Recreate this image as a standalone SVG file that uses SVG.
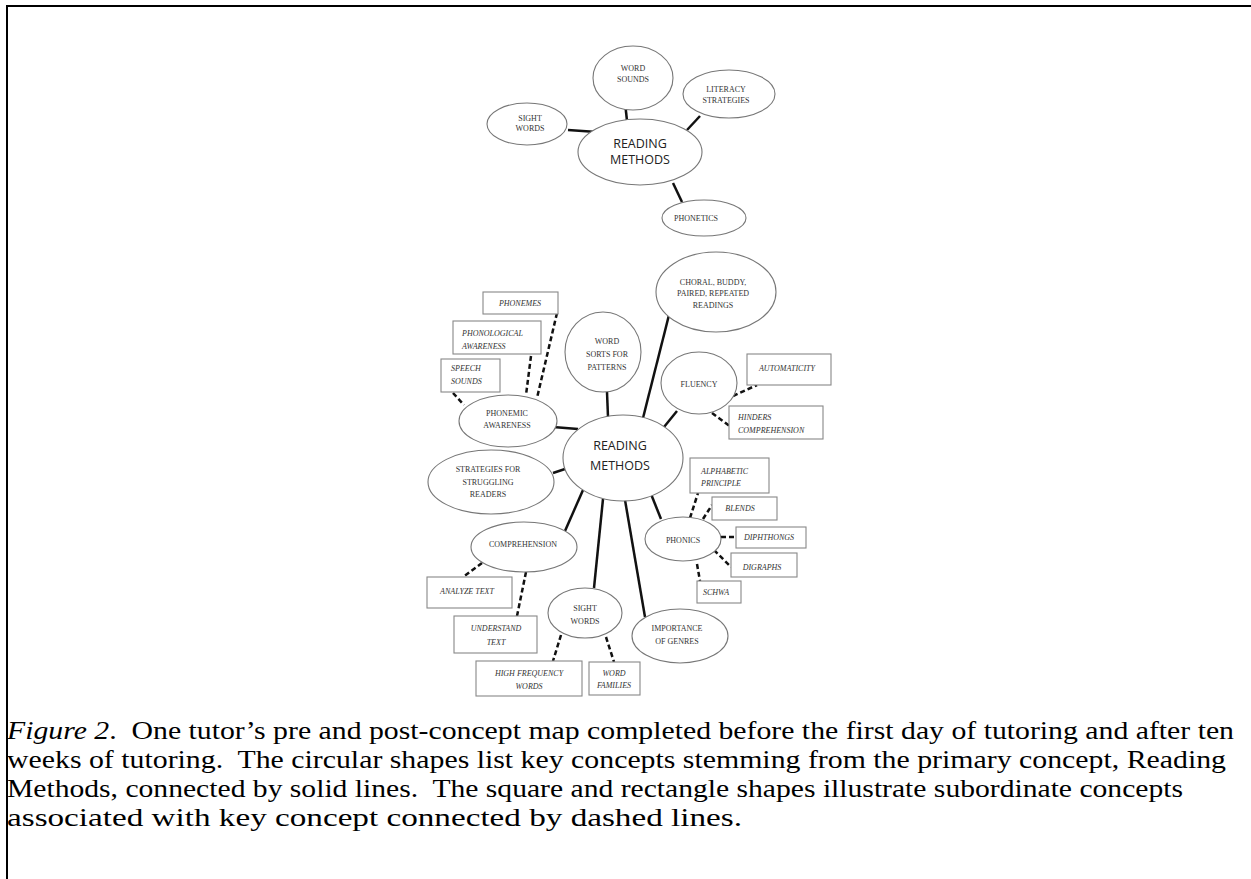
<svg xmlns="http://www.w3.org/2000/svg" width="1251" height="879" viewBox="0 0 1251 879">
<style>
.bg{fill:#fff}
.frame{fill:none;stroke:#000;stroke-width:2}
.el{fill:#fff;stroke:#777;stroke-width:1.1}
.bx{fill:#fff;stroke:#888;stroke-width:1.1}
.solid{stroke:#111;stroke-width:2.5;fill:none}
.dash{stroke:#111;stroke-width:2.5;fill:none;stroke-dasharray:5 3}
.t{font-family:"Liberation Serif",serif;font-size:8px;fill:#333;text-anchor:middle}
.ti{font-family:"Liberation Serif",serif;font-size:8px;fill:#333;font-style:italic;text-anchor:middle}
.tl{text-anchor:start}
.rm{font-family:"Open Sans","Liberation Sans",sans-serif;font-size:12.5px;fill:#222;text-anchor:middle}
.cap{font-family:"Liberation Serif",serif;font-size:25px;fill:#000;white-space:pre}
</style>
<rect class="bg" x="0" y="0" width="1251" height="879"/>
<path class="frame" d="M7,879 V6 H1251"/>

<g id="connectors">
  <line class="solid" x1="568" y1="130" x2="597" y2="132"/>
  <line class="solid" x1="625" y1="102" x2="627" y2="121"/>
  <line class="solid" x1="700" y1="116" x2="687" y2="130"/>
  <line class="solid" x1="673" y1="183" x2="682" y2="202"/>

  <line class="solid" x1="669" y1="315" x2="643" y2="418"/>
  <line class="solid" x1="607" y1="392" x2="608" y2="417"/>
  <line class="solid" x1="677" y1="411" x2="664" y2="427"/>
  <line class="solid" x1="553" y1="427" x2="578" y2="429"/>
  <line class="solid" x1="553" y1="473" x2="565" y2="469"/>
  <line class="solid" x1="583" y1="490" x2="565" y2="531"/>
  <line class="solid" x1="603" y1="499" x2="594" y2="588"/>
  <line class="solid" x1="625" y1="500" x2="645" y2="617"/>
  <line class="solid" x1="651" y1="494" x2="661" y2="519"/>

  <line class="dash" x1="557" y1="313" x2="537" y2="398"/>
  <line class="dash" x1="531" y1="356" x2="526" y2="395"/>
  <line class="dash" x1="453" y1="393" x2="464" y2="405"/>
  <line class="dash" x1="733" y1="396" x2="757" y2="385"/>
  <line class="dash" x1="712" y1="413" x2="731" y2="427"/>
  <line class="dash" x1="690" y1="518" x2="698" y2="493"/>
  <line class="dash" x1="703" y1="519" x2="712" y2="505"/>
  <line class="dash" x1="721" y1="537" x2="736" y2="537"/>
  <line class="dash" x1="714" y1="550" x2="731" y2="567"/>
  <line class="dash" x1="697" y1="564" x2="700" y2="581"/>
  <line class="dash" x1="482" y1="563" x2="463" y2="577"/>
  <line class="dash" x1="526" y1="572" x2="517" y2="616"/>
  <line class="dash" x1="561" y1="635" x2="553" y2="661"/>
  <line class="dash" x1="606" y1="637" x2="614" y2="662"/>
</g>

<!-- top map -->
<g id="top-sight-words"><ellipse class="el" cx="527" cy="124" rx="40" ry="21"/><text class="t" x="530" y="121">SIGHT</text><text class="t" x="530" y="131">WORDS</text></g>
<g id="top-word-sounds"><ellipse class="el" cx="633" cy="78" rx="40" ry="32"/><text class="t" x="633" y="71">WORD</text><text class="t" x="633" y="82">SOUNDS</text></g>
<g id="top-literacy"><ellipse class="el" cx="729" cy="94" rx="46" ry="24"/><text class="t" x="726" y="92">LITERACY</text><text class="t" x="726" y="103">STRATEGIES</text></g>
<g id="top-reading-methods"><ellipse class="el" cx="640" cy="152" rx="62" ry="33"/><text class="rm" x="640" y="148">READING</text><text class="rm" x="640" y="164">METHODS</text></g>
<g id="top-phonetics"><ellipse class="el" cx="704" cy="218" rx="42" ry="18"/><text class="t" x="696" y="221">PHONETICS</text></g>

<!-- bottom map -->
<g id="phonemes"><rect class="bx" x="483" y="292" width="75" height="22"/><text class="ti" x="520" y="306">PHONEMES</text></g>
<g id="phonological"><rect class="bx" x="453" y="321" width="88" height="33"/><text class="ti tl" x="462" y="336">PHONOLOGICAL</text><text class="ti tl" x="462" y="349">AWARENESS</text></g>
<g id="speech-sounds"><rect class="bx" x="441" y="359" width="59" height="33"/><text class="ti tl" x="451" y="371">SPEECH</text><text class="ti tl" x="451" y="384">SOUNDS</text></g>
<g id="word-sorts"><ellipse class="el" cx="603" cy="352" rx="38" ry="40"/><text class="t" x="607" y="344">WORD</text><text class="t" x="607" y="357">SORTS FOR</text><text class="t" x="607" y="370">PATTERNS</text></g>
<g id="choral"><ellipse class="el" cx="716" cy="292" rx="60" ry="40"/><text class="t" x="713" y="285">CHORAL, BUDDY,</text><text class="t" x="713" y="296">PAIRED, REPEATED</text><text class="t" x="713" y="308">READINGS</text></g>
<g id="fluency"><ellipse class="el" cx="699" cy="383" rx="38" ry="31"/><text class="t" x="699" y="387">FLUENCY</text></g>
<g id="automaticity"><rect class="bx" x="747" y="354" width="84" height="31"/><text class="ti" x="787" y="371">AUTOMATICITY</text></g>
<g id="hinders"><rect class="bx" x="729" y="406" width="94" height="33"/><text class="ti tl" x="738" y="420">HINDERS</text><text class="ti tl" x="738" y="433">COMPREHENSION</text></g>
<g id="phonemic-awareness"><ellipse class="el" cx="508" cy="421" rx="49" ry="26"/><text class="t" x="507" y="416">PHONEMIC</text><text class="t" x="507" y="428">AWARENESS</text></g>
<g id="reading-methods"><ellipse class="el" cx="623" cy="458" rx="60" ry="43"/><text class="rm" x="620" y="450">READING</text><text class="rm" x="620" y="470">METHODS</text></g>
<g id="strategies"><ellipse class="el" cx="491" cy="482" rx="63" ry="32"/><text class="t" x="488" y="472">STRATEGIES FOR</text><text class="t" x="488" y="485">STRUGGLING</text><text class="t" x="488" y="497">READERS</text></g>
<g id="alphabetic"><rect class="bx" x="690" y="458" width="79" height="35"/><text class="ti tl" x="701" y="474">ALPHABETIC</text><text class="ti tl" x="701" y="486">PRINCIPLE</text></g>
<g id="blends"><rect class="bx" x="712" y="497" width="65" height="23"/><text class="ti" x="740" y="511">BLENDS</text></g>
<g id="diphthongs"><rect class="bx" x="736" y="527" width="70" height="21"/><text class="ti" x="769" y="540">DIPHTHONGS</text></g>
<g id="digraphs"><rect class="bx" x="731" y="553" width="66" height="24"/><text class="ti" x="762" y="570">DIGRAPHS</text></g>
<g id="phonics"><ellipse class="el" cx="683" cy="539" rx="38" ry="22"/><text class="t" x="683" y="543">PHONICS</text></g>
<g id="schwa"><rect class="bx" x="697" y="581" width="44" height="22"/><text class="ti" x="716" y="595">SCHWA</text></g>
<g id="comprehension"><ellipse class="el" cx="524" cy="547" rx="53" ry="25"/><text class="t" x="523" y="547">COMPREHENSION</text></g>
<g id="analyze-text"><rect class="bx" x="427" y="577" width="85" height="31"/><text class="ti" x="467" y="594">ANALYZE TEXT</text></g>
<g id="understand-text"><rect class="bx" x="454" y="616" width="83" height="37"/><text class="ti" x="496" y="631">UNDERSTAND</text><text class="ti" x="496" y="645">TEXT</text></g>
<g id="sight-words"><ellipse class="el" cx="585" cy="613" rx="37" ry="25"/><text class="t" x="585" y="611">SIGHT</text><text class="t" x="585" y="624">WORDS</text></g>
<g id="importance"><ellipse class="el" cx="680" cy="636" rx="48" ry="27"/><text class="t" x="677" y="631">IMPORTANCE</text><text class="t" x="677" y="644">OF GENRES</text></g>
<g id="high-frequency"><rect class="bx" x="476" y="661" width="106" height="35"/><text class="ti" x="529" y="676">HIGH FREQUENCY</text><text class="ti" x="529" y="689">WORDS</text></g>
<g id="word-families"><rect class="bx" x="589" y="662" width="51" height="33"/><text class="ti" x="614" y="676">WORD</text><text class="ti" x="614" y="688">FAMILIES</text></g>

<g id="caption">
<text class="cap" x="7" y="739" textLength="1227" lengthAdjust="spacingAndGlyphs"><tspan font-style="italic">Figure 2</tspan>.  One tutor’s pre and post-concept map completed before the first day of tutoring and after ten</text>
<text class="cap" x="7" y="768" textLength="1219" lengthAdjust="spacingAndGlyphs">weeks of tutoring.  The circular shapes list key concepts stemming from the primary concept, Reading</text>
<text class="cap" x="7" y="797" textLength="1176" lengthAdjust="spacingAndGlyphs">Methods, connected by solid lines.  The square and rectangle shapes illustrate subordinate concepts</text>
<text class="cap" x="7" y="826" textLength="735" lengthAdjust="spacingAndGlyphs">associated with key concept connected by dashed lines.</text>
</g>
</svg>
